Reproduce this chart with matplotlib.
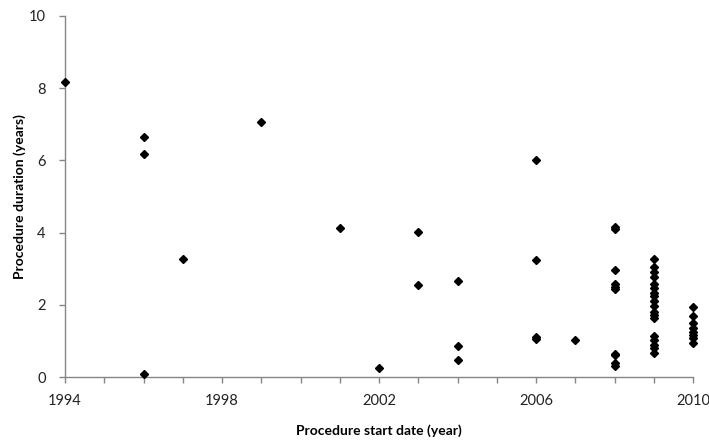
import matplotlib
matplotlib.use("Agg")
import matplotlib.pyplot as plt
from matplotlib.ticker import MultipleLocator

# Data
years_1994_2007 = [1994, 1996, 1996, 1996, 1997, 1999, 2001, 2002,
                   2003, 2003, 2004, 2004, 2004, 2006, 2006, 2006, 2006, 2007]
dur_1994_2007 = [8.17, 6.66, 6.17, 0.08, 3.27, 7.07, 4.12, 0.24,
                 4.01, 2.54, 2.65, 0.87, 0.47, 6.00, 3.23, 1.12, 1.06, 1.02]

dur_2008 = [4.15, 4.10, 2.97, 2.57, 2.50, 2.43, 0.65, 0.60, 0.38, 0.30]
dur_2009 = [3.27, 3.04, 2.92, 2.78, 2.58, 2.46, 2.34, 2.23, 2.11, 1.97,
            1.81, 1.72, 1.63, 1.14, 1.02, 0.89, 0.79, 0.67]
dur_2010 = [1.95, 1.69, 1.49, 1.35, 1.25, 1.16, 1.07, 0.93]

years = (years_1994_2007 + [2008] * len(dur_2008) + [2009] * len(dur_2009)
         + [2010] * len(dur_2010))
durations = dur_1994_2007 + dur_2008 + dur_2009 + dur_2010

x_ticks = [1994, 1998, 2002, 2006, 2010]
y_ticks = [0, 2, 4, 6, 8, 10]

plt.rcParams['font.family'] = ['Lato', 'DejaVu Sans']

fig = plt.figure(figsize=(7.09, 4.40), dpi=100)
ax = fig.add_axes([65 / 709, 1 - 377 / 440, (693 - 65) / 709, (377 - 16) / 440])

ax.plot(years, durations, linestyle='none', marker='D', markersize=4.3,
        color='black', markeredgecolor='black', clip_on=False, zorder=3)

ax.set_xlim(1994, 2010)
ax.set_ylim(0, 10)
ax.set_xticks(x_ticks)
ax.set_xticklabels([str(t) for t in x_ticks])
ax.xaxis.set_minor_locator(MultipleLocator(1))
ax.set_yticks(y_ticks)
ax.set_yticklabels([str(t) for t in y_ticks])

axis_color = '#868686'
for side in ['top', 'right']:
    ax.spines[side].set_visible(False)
for side in ['left', 'bottom']:
    ax.spines[side].set_color(axis_color)
    ax.spines[side].set_linewidth(1.0)

ax.tick_params(axis='both', which='both', direction='out', color=axis_color,
               length=4, width=1.0, labelsize=10.5, labelcolor='#222222')
ax.tick_params(axis='x', which='major', pad=8)
ax.tick_params(axis='y', which='major', pad=10)

ax.set_xlabel('Procedure start date (year)', fontsize=10, fontweight='bold',
              labelpad=12)
ax.set_ylabel('Procedure duration (years)', fontsize=10, fontweight='bold',
              labelpad=2)

fig.savefig('out.png', dpi=100)
